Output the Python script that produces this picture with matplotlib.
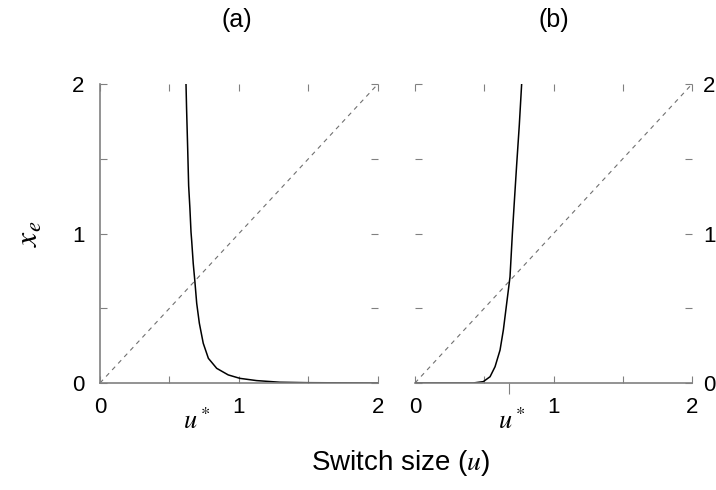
"""Two-panel equilibrium x_e vs switch size u, with the x = u diagonal."""

import matplotlib
matplotlib.use("Agg")
import matplotlib.pyplot as plt

plt.rcParams["font.family"] = ["Liberation Sans", "DejaVu Sans"]
plt.rcParams["mathtext.fontset"] = "stix"

# values
ticks = [0, 0.5, 1, 1.5, 2]
tick_labels = ["0", "", "1", "", "2"]
u_star = 0.68

left_u = [0.619, 0.623, 0.631, 0.638, 0.647, 0.655, 0.66, 0.671, 0.683, 0.696,
          0.715, 0.743, 0.78, 0.84, 0.923, 1.007, 1.127, 1.295, 1.5, 2.0]
left_x = [2.0, 1.84, 1.57, 1.32, 1.17, 1.01, 0.95, 0.80, 0.678, 0.533,
          0.40, 0.266, 0.165, 0.098, 0.054, 0.031, 0.016, 0.005, 0.002, 0.0]

right_u = [0.0, 0.42, 0.493, 0.542, 0.578, 0.614, 0.638, 0.662, 0.686, 0.703,
           0.717, 0.734, 0.753, 0.770]
right_x = [0.0, 0.0, 0.009, 0.042, 0.109, 0.22, 0.355, 0.533, 0.71, 1.0,
           1.21, 1.46, 1.725, 2.0]

diag = [0, 2]

fig = plt.figure(figsize=(7.16, 4.9), dpi=100)
ax_a = fig.add_axes([0.1397, 0.2184, 0.388, 0.610])
ax_b = fig.add_axes([0.5796, 0.2184, 0.3869, 0.610])

spine_col = "#808080"
for ax, u, x in [(ax_a, left_u, left_x), (ax_b, right_u, right_x)]:
    ax.plot(diag, diag, color="#707070", lw=0.8, ls=(0, (4, 4)))
    ax.plot(u, x, color="black", lw=1.1)
    ax.set_xlim(0, 2)
    ax.set_ylim(0, 2)
    ax.set_xticks(ticks, labels=tick_labels)
    ax.set_yticks(ticks, labels=tick_labels)
    for s in ax.spines.values():
        s.set_color(spine_col)
        s.set_linewidth(1.2)
    ax.spines["top"].set_visible(False)
    ax.spines["right"].set_visible(False)
    ax.tick_params(which="major", direction="in", length=5, width=0.8,
                   color=spine_col, labelsize=16, top=True, right=True)
    ax.tick_params(axis="x", pad=10)
    ax.text(u_star + 0.02, -0.17, "$u^*$", transform=ax.transData,
            fontsize=19, ha="center", va="top")

ax_a.tick_params(axis="y", pad=11)
ax_b.spines["left"].set_visible(False)
ax_b.tick_params(axis="y", labelleft=False, labelright=True, pad=8)
ax_b.set_xticks([u_star], minor=True)
ax_b.tick_params(which="minor", axis="x", direction="out", length=8,
                 width=0.8, color=spine_col, top=False)

ax_a.set_ylabel("$x_e$", fontsize=23, labelpad=20)
fig.text(0.331, 0.96, "(a)", fontsize=18, ha="center", va="center")
fig.text(0.773, 0.96, "(b)", fontsize=18, ha="center", va="center")
fig.text(0.56, 0.055, "Switch size ($u$)", fontsize=20, ha="center", va="center")

fig.savefig("out.png", dpi=100)
